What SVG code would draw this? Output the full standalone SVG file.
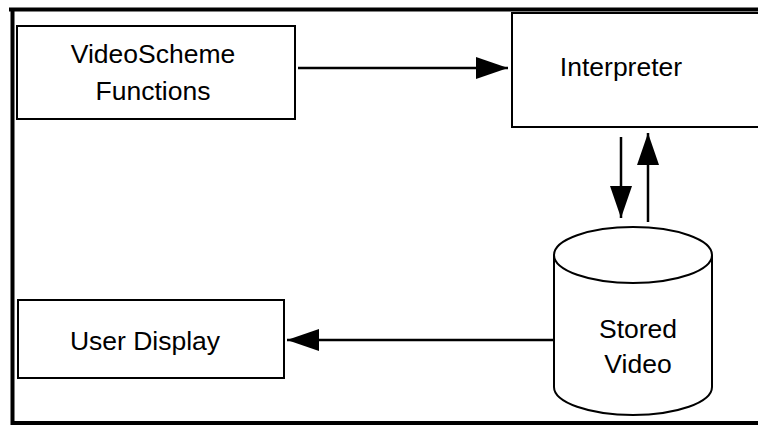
<svg xmlns="http://www.w3.org/2000/svg" width="758" height="426" viewBox="0 0 758 426">
<style>
.box{fill:#fff;stroke:#000;stroke-width:2}
.lbl{font-family:"Liberation Sans",Arial,sans-serif;font-size:26.5px;fill:#000;text-anchor:middle}
.conn{stroke:#000;stroke-width:2.5;fill:none;marker-end:url(#ah)}
.frame{stroke:#000;stroke-width:4;fill:none}
</style>
<defs>
<marker id="ah" markerUnits="userSpaceOnUse" markerWidth="32" markerHeight="22" refX="32" refY="11" orient="auto">
<path d="M0,0 L32,11 L0,22 z" fill="#000"/>
</marker>
</defs>
<rect width="758" height="426" fill="#fff"/>
<g id="frame">
<path class="frame" d="M9,9.5 H758 M12.5,8 V425 M10.5,423 H758"/>
</g>
<g id="videoscheme">
<rect class="box" x="17" y="26" width="278" height="93"/>
<text class="lbl" x="153" y="63">VideoScheme</text>
<text class="lbl" x="153" y="100">Functions</text>
</g>
<g id="interpreter">
<rect class="box" x="512" y="13" width="260" height="114"/>
<text class="lbl" x="621" y="76">Interpreter</text>
</g>
<g id="stored">
<path class="box" d="M554,255 V387 A79,28 0 0 0 712,387 V255"/>
<ellipse class="box" cx="633" cy="255" rx="79" ry="28"/>
<text class="lbl" x="638" y="338">Stored</text>
<text class="lbl" x="638" y="373">Video</text>
</g>
<g id="userdisplay">
<rect class="box" x="18" y="300" width="266" height="78"/>
<text class="lbl" x="145" y="350">User Display</text>
</g>
<g id="connectors">
<line class="conn" x1="298" y1="68" x2="508" y2="68"/>
<line class="conn" x1="621" y1="137" x2="621" y2="218"/>
<line class="conn" x1="648" y1="222" x2="648" y2="133"/>
<line class="conn" x1="554" y1="340" x2="287" y2="340"/>
</g>
</svg>
